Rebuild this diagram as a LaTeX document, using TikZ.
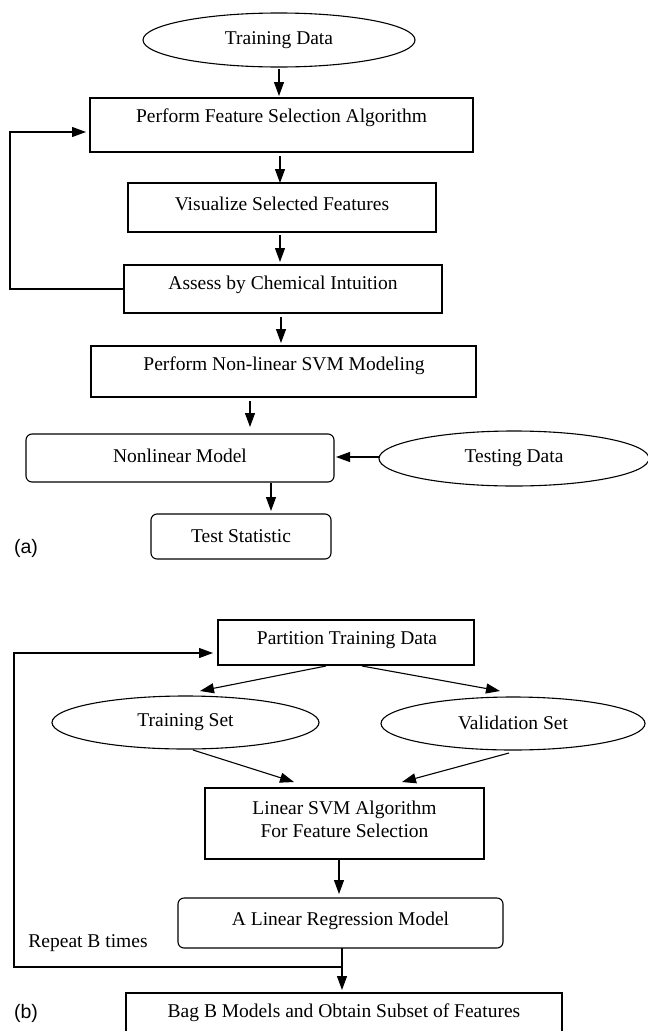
\documentclass[tikz,border=0pt]{standalone}
\usepackage{fontspec}
\setmainfont{Liberation Serif}
\newfontfamily\lblfont{Liberation Sans}
\usetikzlibrary{arrows.meta,shapes.geometric,calc}
\begin{document}
\begin{tikzpicture}[x=1pt,y=-1pt,
  every node/.style={inner sep=0pt,outer sep=0pt},
  txt/.style={font=\fontsize{19.5}{22.5}\selectfont,align=center},
  box/.style={draw,line width=1.1pt},
  rbox/.style={draw,line width=1.1pt,rounded corners=6pt},
  oval/.style={draw,line width=1.1pt,ellipse},
  arr/.style={line width=1.1pt,-{Triangle[length=14pt,width=10pt]}},
  ln/.style={line width=1.1pt},
  lbl/.style={font=\lblfont\fontsize{19.5}{22}\selectfont}]
\useasboundingbox (0,0) rectangle (648,1031);
\clip (0,0) rectangle (648,1031);

% ---------- (a) ----------
\node[oval,minimum width=272pt,minimum height=54pt] (td) at (279,40) {};
\node[txt] at (td.center) {Training Data};

\node[box,minimum width=383pt,minimum height=54pt] (pfs) at (281.5,125) {};
\node[txt] at (281.5,118) {Perform Feature Selection Algorithm};

\node[box,minimum width=308pt,minimum height=49pt] (vis) at (282,207.5) {};
\node[txt] at (282,204) {Visualize Selected Features};

\node[box,minimum width=318pt,minimum height=48pt] (ass) at (283,289) {};
\node[txt] at (283,285) {Assess by Chemical Intuition};

\node[box,minimum width=385pt,minimum height=51pt] (pnl) at (283.5,371.5) {};
\node[txt] at (284,366) {Perform Non-linear SVM Modeling};

\node[rbox,minimum width=308pt,minimum height=48pt] (nlm) at (180,458) {};
\node[txt] at (180,456) {Nonlinear Model};

\node[oval,minimum width=270pt,minimum height=55pt] (tsd) at (514,458.5) {};
\node[txt] at (514,458) {Testing Data};

\node[rbox,minimum width=180pt,minimum height=45pt] (ts) at (241,536.5) {};
\node[txt] at (241,536) {Test Statistic};

\node[lbl] (la) at (26,548) {(a)};

\draw[arr] (279,69) -- (279,96);
\draw[arr] (pfs.south -| 280,0) ++(0,4) -- (vis.north -| 280,0);
\draw[arr] ($(vis.south -| 280,0)+(0,3)$) -- ($(ass.north -| 280,0)+(0,-3)$);
\draw[arr] ($(ass.south -| 281,0)+(0,4)$) -- ($(pnl.north -| 281,0)+(0,-3)$);
\draw[arr] ($(pnl.south -| 250,0)+(0,4)$) -- ($(nlm.north -| 250,0)+(0,-7)$);
\draw[arr] (tsd.west |- 0,457) -- ($(nlm.east |- 0,457)+(2,0)$);
\draw[arr] ($(nlm.south -| 271,0)+(0,1)$) -- ($(ts.north -| 271,0)+(0,-3)$);
\coordinate (lpa) at (10,132);
\draw[arr] (ass.west) -| (lpa) -- ($(pfs.west |- lpa)+(-4,0)$);

% ---------- (b) ----------
\node[box,minimum width=256pt,minimum height=45pt] (ptd) at (346,642.5) {};
\node[txt] at (347,640) {Partition Training Data};

\node[oval,minimum width=267pt,minimum height=53pt] (tset) at (185.5,722.5) {};
\node[txt] at (185.5,722) {Training Set};

\node[oval,minimum width=264pt,minimum height=53pt] (vset) at (513,723.5) {};
\node[txt] at (513,723) {Validation Set};

\node[box,minimum width=279pt,minimum height=71pt] (lsvm) at (344.5,823.5) {};
\node[txt] at (344.5,819.5) {Linear SVM Algorithm\\For Feature Selection};

\node[rbox,minimum width=325pt,minimum height=50pt] (lrm) at (340.5,923) {};
\node[txt] at (340.5,921) {A Linear Regression Model};

\node[box,minimum width=436pt,minimum height=80pt] (bag) at (344,1033) {};
\node[txt] at (344,1013) {Bag B Models and Obtain Subset of Features};

\node[txt] (rep) at (88,943) {Repeat B times};
\node[lbl] (lb) at (26,1013) {(b)};

\draw[arr] ($(ptd.south)+(-20,1)$) -- ($(tset.north)+(14.5,-5)$);
\draw[arr] ($(ptd.south)+(16,1)$) -- ($(vset.north)+(-13,-6)$);
\draw[arr] ($(tset.south)+(7.5,1)$) -- ($(lsvm.north)+(-50.5,-6)$);
\draw[arr] ($(vset.south)+(-4,3)$) -- ($(lsvm.north)+(57.5,-6)$);
\draw[arr] ($(lsvm.south -| 339,0)+(0,0)$) -- ($(lrm.north -| 339,0)+(0,-4)$);
\draw[arr] (lrm.south -| 342,0) -- ($(bag.north -| 342,0)+(0,-3)$);
\coordinate (jb) at (342,967);
\coordinate (lpb) at (14,653);
\draw[arr] (jb) -| (lpb) -- ($(ptd.west |- lpb)+(-5,0)$);
\end{tikzpicture}
\end{document}
